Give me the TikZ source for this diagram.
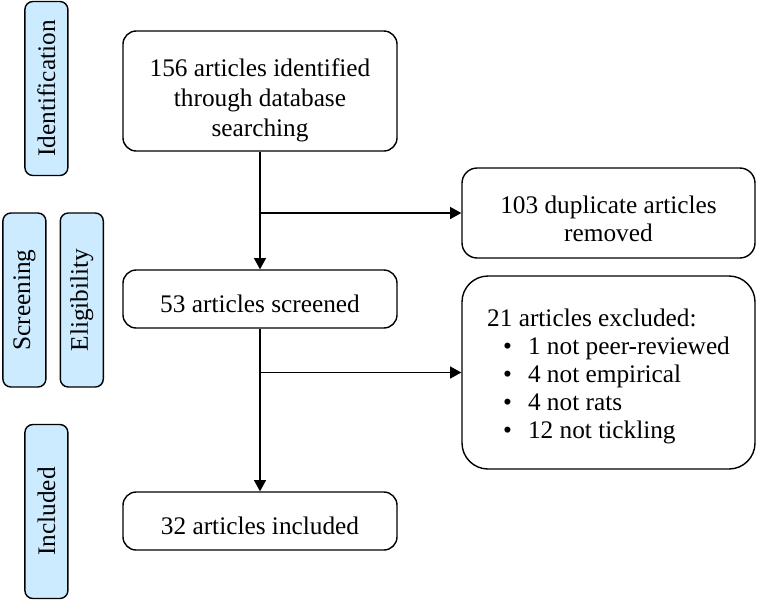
\documentclass[tikz,border=0pt]{standalone}
\usepackage{fontspec}
\setmainfont{Liberation Serif}
\usetikzlibrary{arrows.meta}
\definecolor{tabblue}{RGB}{204,235,255}
\newcommand{\topgap}[1]{\rule{0pt}{#1}}

\begin{document}
\begin{tikzpicture}[
    box/.style={rectangle, draw, rounded corners=0.33cm, line width=1pt, minimum width=6.85cm, minimum height=1.45cm, align=center, inner sep=0pt, font=\fontsize{18}{20}\selectfont},
    sidebox/.style={rectangle, draw, rounded corners=0.38cm, line width=1pt, minimum width=7.325cm, inner sep=0pt, font=\fontsize{18}{20}\selectfont},
    stage/.style={rectangle, draw, rounded corners=0.2cm, line width=1pt, fill=tabblue, rotate=90, minimum width=4.35cm, minimum height=1.075cm, inner sep=0pt, font=\fontsize{18}{22}\selectfont},
    flow/.style={line width=0.8pt, -{Triangle[length=0.28cm, width=0.3cm]}}
  ]
    \useasboundingbox (0, 0) rectangle (18.975, -15.025);

    % 段階のラベル
    \node[stage] (ident) at (1.16, -2.2125) {Identification};
    \node[stage] (screen) at (0.61, -7.5) {Screening};
    \node[stage] (elig) at (2.045, -7.5) {Eligibility};
    \node[stage] (incl) at (1.16, -12.7875) {Included};

    % 中央の流れ
    \node[box, minimum height=3cm, font=\fontsize{18}{21.3}\selectfont] (found) at (6.5, -2.275) {\topgap{0.93cm}156 articles identified\\through database\\searching};
    \node[box] (screened) at (6.5, -7.475) {\topgap{0.68cm}53 articles screened};
    \node[box] (included) at (6.5, -13.025) {\topgap{0.68cm}32 articles included};

    % 除外の箱
    \node[sidebox, minimum height=2.25cm, align=center] (dup) at (15.2125, -5.325) {\topgap{0.73cm}103 duplicate articles\\removed};
    \node[sidebox, rounded corners=0.65cm, minimum height=4.825cm, align=left] (excl) at (15.2125, -9.3125)
      {\topgap{0.63cm}21 articles excluded:\\
       \hspace{0.4cm}\textbullet\hspace{0.4cm}1 not peer-reviewed\\
       \hspace{0.4cm}\textbullet\hspace{0.4cm}4 not empirical\\
       \hspace{0.4cm}\textbullet\hspace{0.4cm}4 not rats\\
       \hspace{0.4cm}\textbullet\hspace{0.4cm}12 not tickling};

    \coordinate (j1) at (found.south |- dup.west);
    \coordinate (j2) at (screened.south |- excl.west);

    \draw[flow] (found) -- (screened);
    \draw[flow] (screened) -- (included);
    \draw[flow] (j1) -- (dup);
    \draw[flow] (j2) -- (excl);

  \end{tikzpicture}
\end{document}
